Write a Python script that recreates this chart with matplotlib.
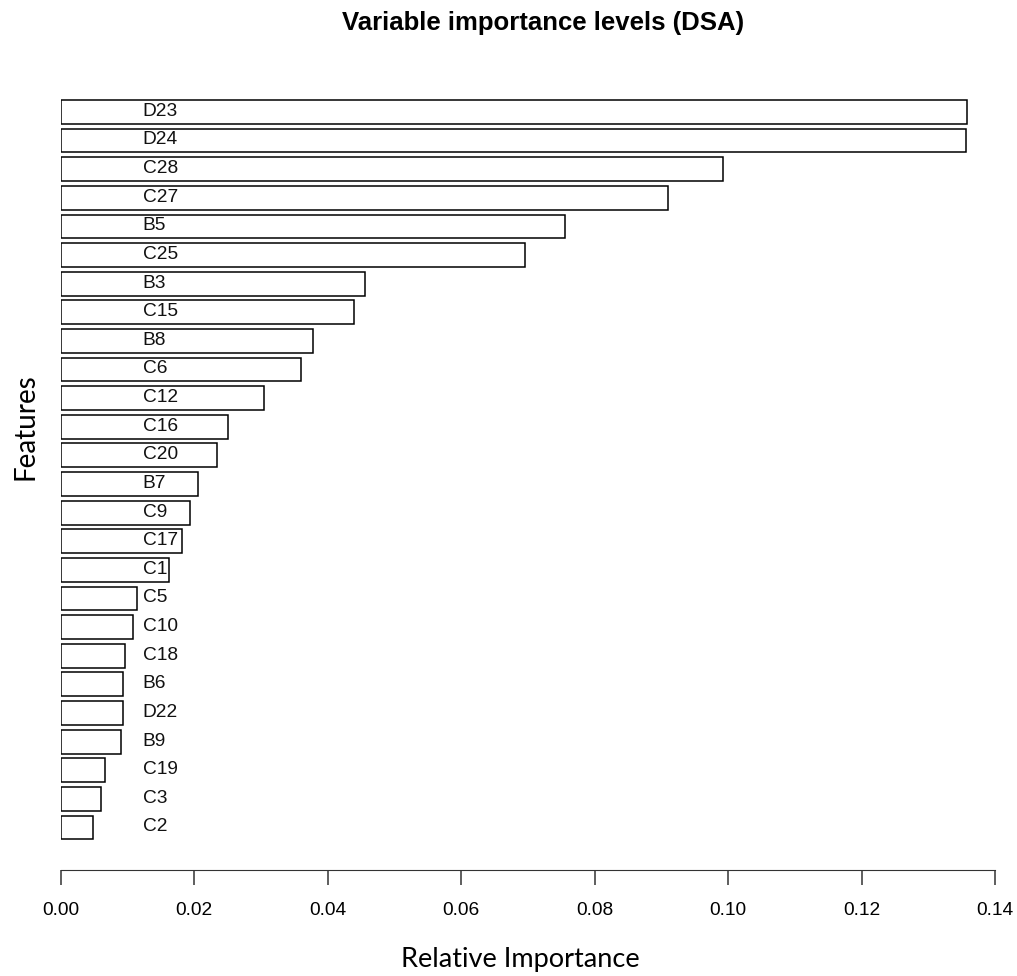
import numpy as np
import matplotlib.pyplot as plt

# features ordered bottom -> top as drawn
features = ['C2', 'C3', 'C19', 'B9', 'D22', 'B6', 'C18', 'C10', 'C5', 'C1',
            'C17', 'C9', 'B7', 'C20', 'C16', 'C12', 'C6', 'B8', 'C15', 'B3',
            'C25', 'B5', 'C27', 'C28', 'D24', 'D23']
importance = [0.0048, 0.0060, 0.0066, 0.0090, 0.0094, 0.0094, 0.0096, 0.0109,
              0.0114, 0.0163, 0.0181, 0.0193, 0.0205, 0.0234, 0.0250, 0.0304,
              0.0360, 0.0378, 0.0439, 0.0456, 0.0696, 0.0755, 0.0910, 0.0992,
              0.1357, 0.1358]
xticks = [0.00, 0.02, 0.04, 0.06, 0.08, 0.10, 0.12, 0.14]

fig = plt.figure(figsize=(10.17, 9.76), dpi=100)
ax = fig.add_axes([0.0597, 0.1086, 0.9187, 0.8207])

y = np.arange(len(features))
ax.barh(y, importance, height=0.833, color='white', edgecolor='black', linewidth=1.1)
for yi, name in zip(y, features):
    ax.text(0.0123, yi + 0.02, name, ha='left', va='center', fontsize=13.8,
            family='Liberation Sans', color='#111111')

ax.set_xlim(0, 0.14)
ax.set_ylim(-1.485, 26.5)
for s in ['top', 'right', 'left']:
    ax.spines[s].set_visible(False)
ax.spines['bottom'].set_color('#333333')
ax.set_yticks([])
ax.set_xticks(xticks)
ax.set_xticklabels(['%.2f' % v for v in xticks], family='Liberation Sans', fontsize=13.8)
ax.tick_params(axis='x', length=11, width=1.1, color='#333333', pad=12)

fig.text(0.5344, 1 - 23 / 976, 'Variable importance levels (DSA)', ha='center', va='center',
         fontsize=18.5, fontweight='bold', family='Liberation Sans')
fig.text(0.512, 1 - 960 / 976, 'Relative Importance', ha='center', va='center',
         fontsize=19.5, family='Lato')
fig.text(25 / 1017, 1 - 427 / 976, 'Features', ha='center', va='center',
         rotation=90, fontsize=20, family='Lato')

plt.savefig('out.png', dpi=100)
